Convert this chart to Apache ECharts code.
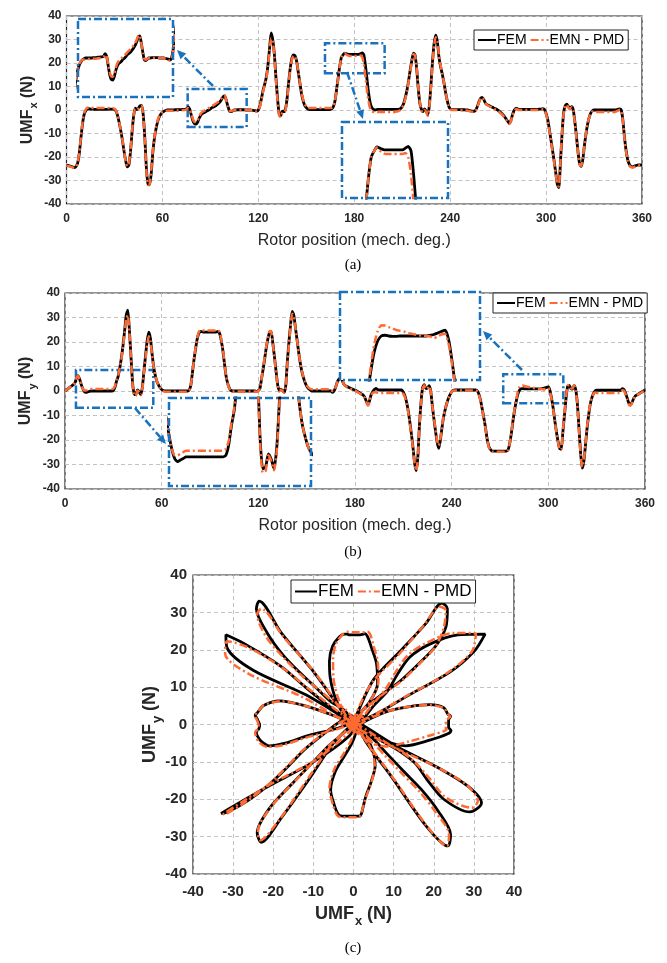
<!DOCTYPE html>
<html>
<head>
<meta charset="utf-8">
<script src="https://cdn.jsdelivr.net/npm/echarts@6.0.0/dist/echarts.min.js"></script>
<style>
  html, body { margin: 0; padding: 0; background: #fff; }
  #chart { width: 667px; height: 963px; }
</style>
</head>
<body>
<div id="chart"></div>
<script>
// rotor position, 1 deg steps
const deg = [];
for (let i = 0; i <= 360; i++) deg.push(i);

// UMF x, FEM
const fxFem = [
  /*0*/   -23.5,-23.6,-23.8,-24.0,-24.3,-24.5,-24.0,-22.5,-18.5,-12,
  /*10*/  -6,-2,-0.3,0.4,0.6,0.4,0.4,0.3,0.3,0.3,
  /*20*/  0.3,0.3,0.3,0.3,0.3,0.3,0.3,0.4,0.4,0.4,
  /*30*/  0.2,-0.5,-2.5,-5.5,-9,-13,-17.5,-21.5,-24.2,-23.5,
  /*40*/  -18,-9.5,-2.5,0.8,0.2,0.8,1.8,2.0,-2,-12,
  /*50*/  -25,-31.5,-31.8,-27,-18,-12,-8,-5,-3,-1.8,
  /*60*/  -1,-0.5,-0.2,0,0,0,0,0,0.1,0.1,
  /*70*/  0.1,0.2,0.2,0.3,0.3,0.5,1.2,0.5,-2,-4.5,
  /*80*/  -5.8,-6,-5.2,-3.5,-2.2,-1.5,-1.2,-0.8,-0.3,0,
  /*90*/  0.5,1,1.3,1.7,2.2,2.8,3.5,4.5,5.7,6,
  /*100*/ 4,1.5,-0.5,-0.7,-0.3,0,0,0.1,0.1,0.1,
  /*110*/ 0.1,0.1,0,0,0,0,-0.1,-0.2,-0.3,-0.5,
  /*120*/ 0,2,5,8.5,11,14,19,26,32.8,30,
  /*130*/ 24,14,5,-1.5,-2.5,-0.5,-0.7,0.5,5,12,
  /*140*/ 18,22,23.4,23,20.5,16,11.5,7,4,2,
  /*150*/ 1,0.4,0.2,0.2,0.2,0.2,0.2,0.2,0.2,0.2,
  /*160*/ 0.2,0.2,0.2,0.2,0.2,0.3,0.5,1.5,4,9,
  /*170*/ 14,19,22.5,23.5,24.2,24.0,23.8,23.7,23.7,23.7,
  /*180*/ 23.7,23.7,23.7,23.7,24.0,24.3,23.5,19,13,7,
  /*190*/ 3,1,0.3,0,0.2,0.3,0.3,0.3,0.3,0.3,
  /*200*/ 0.3,0.3,0.3,0.3,0.3,0.3,0.3,0.3,0.4,0.6,
  /*210*/ 1.5,3,5.5,8.5,12.5,17,21,24.2,23.5,18,
  /*220*/ 9.5,3,0.3,-0.7,0.5,-0.5,-2,2,11,21,
  /*230*/ 28.5,31.9,29,22.5,18.5,15.5,12,8,4.5,1.8,
  /*240*/ 0.5,0.2,0.2,0.2,0.2,0.2,0.2,0.1,0.1,0.1,
  /*250*/ 0,0,-0.2,-0.4,-0.5,-0.6,0,1.5,3.5,5,
  /*260*/ 5.4,4.5,3,2.3,2,1.6,1.3,1,0.6,0.3,
  /*270*/ -0.2,-0.7,-1.3,-2,-2.8,-3.8,-4.8,-5.7,-4.5,-2,
  /*280*/ -0.2,0.7,0.6,0.3,0.3,0.3,0.3,0.3,0.3,0.3,
  /*290*/ 0.3,0.3,0.3,0.3,0.3,0.3,0.4,0.4,0.6,0.2,
  /*300*/ -1.5,-4,-8,-12.5,-17,-21.5,-26.5,-31.5,-33,-22,
  /*310*/ -10,-1,1.8,2.5,1.5,0.8,1.4,0,-5,-11.3,
  /*320*/ -18,-23,-24,-21,-15,-10,-6,-3,-1.2,-0.3,
  /*330*/ 0,0,0,0,0,0,0,0,0,0,
  /*340*/ 0,0,0,0,0.1,0.3,0.5,0,-4,-11.3,
  /*350*/ -17,-21,-23,-24,-24.2,-24,-23.6,-23.5,-23.4,-23.4,
  /*360*/ -23.5
];

// UMF x, EMN - PMD
const fxEmn = [
  /*0*/   -23.7,-23.8,-24.0,-24.2,-24.5,-24.6,-24.0,-22.3,-18,-11.5,
  /*10*/  -5.5,-1.5,0.2,0.9,1.1,1.0,0.9,0.9,0.9,0.9,
  /*20*/  0.9,0.9,0.9,0.9,0.9,0.9,0.9,0.9,0.9,0.8,
  /*30*/  0.5,-0.3,-2.3,-5.3,-8.8,-12.8,-17.5,-21.8,-24,-23,
  /*40*/  -17.5,-9,-2.3,0.5,0,0.6,1.6,1.8,-2.5,-13,
  /*50*/  -26,-32,-31.5,-26,-17.5,-11.5,-7.5,-4.5,-2.6,-1.5,
  /*60*/  -0.8,-0.5,-0.4,-0.3,-0.3,-0.3,-0.3,-0.3,-0.2,-0.2,
  /*70*/  -0.2,-0.1,-0.1,0,0,0.2,0.9,0.4,-1.6,-3.8,
  /*80*/  -5,-5.1,-4.4,-2.8,-1.5,-0.8,-0.4,0,0.4,0.8,
  /*90*/  1.2,1.7,2.1,2.5,3,3.5,4.2,5,6,6.2,
  /*100*/ 4,1.3,-0.3,-0.5,-0.2,0,0,0,0,0,
  /*110*/ 0,0,0,0,0,0,-0.2,-0.3,-0.5,-0.7,
  /*120*/ -0.2,1.5,4.5,8,10.5,13.5,18.5,25,30.5,29.5,
  /*130*/ 23,13,4,-2.5,-3,-1,-0.9,0,4.5,11.5,
  /*140*/ 17.5,21.5,23,22.5,20.5,16.2,11.8,7.5,4.5,2.5,
  /*150*/ 1.5,0.9,0.8,0.8,0.8,0.8,0.8,0.8,0.8,0.8,
  /*160*/ 0.8,0.8,0.8,0.8,0.8,0.9,1,1.8,4,9,
  /*170*/ 14,19,22.5,23.5,24.1,23.6,23.2,23,23,23,
  /*180*/ 23,23,23,23,23.2,22.5,19.5,14,8,3.5,
  /*190*/ 0.5,-0.5,-0.8,-0.8,-0.8,-0.8,-0.8,-0.8,-0.8,-0.8,
  /*200*/ -0.8,-0.8,-0.8,-0.8,-0.8,-0.8,-0.7,-0.6,-0.4,0,
  /*210*/ 1,2.5,5,8,12,16.5,20.5,23.8,23.3,18.5,
  /*220*/ 10,3.5,-0.3,-1,0,-0.8,-2.5,1.5,10,20,
  /*230*/ 28,31,29.5,23,19,15.5,12,8,4.5,1.8,
  /*240*/ 0.3,0,0,0,0,0,0,-0.1,-0.1,-0.1,
  /*250*/ -0.2,-0.3,-0.5,-0.7,-0.8,-0.9,-0.3,1.2,3.2,4.8,
  /*260*/ 5.3,4.5,3,2.2,1.8,1.4,1,0.7,0.3,0,
  /*270*/ -0.5,-1,-1.6,-2.3,-3.1,-4.1,-5.1,-6,-4.8,-2.3,
  /*280*/ -0.5,0.3,0.3,0,0,0,0,0,0,0,
  /*290*/ 0,0,0,0,0,0,0.1,0.1,0.3,0,
  /*300*/ -1.8,-4.5,-8.5,-13,-17.5,-22,-27,-31.5,-32.5,-21.5,
  /*310*/ -9.5,-1.5,1.8,2.2,1,0.3,1.2,-0.2,-5.5,-12,
  /*320*/ -18.5,-23.3,-23.8,-20.5,-14.5,-9.5,-5.8,-3,-1.3,-0.6,
  /*330*/ -0.8,-0.8,-0.8,-0.8,-0.8,-0.8,-0.8,-0.8,-0.8,-0.8,
  /*340*/ -0.8,-0.8,-0.8,-0.8,-0.6,-0.3,0.1,-0.5,-4.5,-11.8,
  /*350*/ -17.5,-21.5,-23.5,-24.3,-24.5,-24.3,-23.8,-23.6,-23.6,-23.6,
  /*360*/ -23.7
];

// UMF y, FEM
const fyFem = [
  /*0*/   0,0.5,1,1.5,2,2.5,3.1,5,6.3,5,
  /*10*/  2.8,1,-0.2,-0.6,-0.4,-0.2,0,0,0,0,
  /*20*/  0,0,0,0,0,0,0,0,0,0,
  /*30*/  0.2,1.5,4,6,9.5,13.5,18.5,24.5,31,33,
  /*40*/  24.5,13.5,3,-1.5,-1.3,0.4,-0.3,-1.5,1.5,8,
  /*50*/  14.5,20.5,24,21.5,15.5,10,6.5,4,2.5,1.3,
  /*60*/  0.6,0.2,0,0,0,0,0,0,0,0,
  /*70*/  0,0,0,0,0,0,0,0.3,2,7,
  /*80*/  12.5,17,21,23.5,24.2,24.2,24,24,24,24,
  /*90*/  24,24,24,24,24.1,24.3,23.5,20.5,16.5,11,
  /*100*/ 6,3,1.2,0.2,0,0,0,0,0,0,
  /*110*/ 0,0,0,0,0,0,0,0,0,-0.2,
  /*120*/ 0.2,1,5,9,13.5,18,21.5,24,24.2,19.5,
  /*130*/ 14,8,2.5,0.2,0.7,0.2,-0.5,2,12,20,
  /*140*/ 27,32.5,31,26,21,16,11.5,8,5.5,3.5,
  /*150*/ 2,1.1,0.5,0,0,0,0,0,0,0,
  /*160*/ 0,0,0,0,0,0,-0.5,0,1.5,3.7,
  /*170*/ 4.8,5.3,4.5,2.8,2.2,1.8,1.5,1.2,0.9,0.6,
  /*180*/ 0.4,0,-0.4,-0.8,-1.2,-1.6,-2.5,-4.2,-5.7,-4,
  /*190*/ -1.5,-0.3,0.6,1.1,0.6,0.4,0.4,0.4,0.4,0.4,
  /*200*/ 0.4,0.4,0.4,0.4,0.4,0.4,0.4,0.4,0.4,0.4,
  /*210*/ -0.5,-2,-4.5,-8,-12.5,-17.5,-23,-29.5,-32.5,-27,
  /*220*/ -14,-4.5,1.5,2.6,1,1.2,2.2,0,-6,-11.5,
  /*230*/ -16.5,-21,-23.4,-20,-15,-10.5,-7.5,-5,-3,-1.5,
  /*240*/ -0.3,0.3,0.4,0.4,0.4,0.4,0.4,0.4,0.4,0.4,
  /*250*/ 0.4,0.4,0.4,0.4,0.4,0.4,0,-1.5,-4,-7.5,
  /*260*/ -11,-15,-19.5,-22.5,-23.8,-24.5,-24.5,-24.5,-24.5,-24.5,
  /*270*/ -24.5,-24.5,-24.5,-24.5,-24.5,-24,-21.5,-17.5,-12.5,-8,
  /*280*/ -4.5,-1.5,0.2,0.9,1,0.9,0.85,0.85,0.9,0.9,
  /*290*/ 0.9,0.9,0.9,0.9,0.9,0.9,1.0,1.1,1.3,1.5,
  /*300*/ 1.7,0.3,-3,-7,-12,-16.5,-20.5,-23.5,-23.8,-17,
  /*310*/ -10,-3,1.9,2.3,1,0.8,2.2,0.5,-5,-15,
  /*320*/ -25,-31.5,-29,-22.5,-15.5,-10,-5.5,-2.8,-1.1,0,
  /*330*/ 0.3,0.3,0.3,0.3,0.3,0.3,0.3,0.3,0.3,0.3,
  /*340*/ 0.3,0.3,0.3,0.3,0.3,0.3,1,0.6,-1,-3,
  /*350*/ -5,-5.7,-4.5,-3,-2,-1.6,-1.2,-0.8,-0.4,0,
  /*360*/ 0.4
];

// UMF y, EMN - PMD
const fyEmn = [
  /*0*/   0,0.5,1,1.5,2,2.5,3.2,5.2,6.2,4.8,
  /*10*/  2.6,1,0.2,0.2,0.4,0.6,0.8,0.8,0.8,0.8,
  /*20*/  0.8,0.8,0.8,0.8,0.8,0.8,0.8,0.8,0.8,0.8,
  /*30*/  1,2,4.3,6.3,9.5,13,18,23.5,29.5,31,
  /*40*/  23.5,13,2.5,-2,-1.8,0.2,-0.5,-1.7,1,7.5,
  /*50*/  13.5,19,22.3,20.5,15,9.8,6.5,4,2.5,1.3,
  /*60*/  0.5,0,-0.3,-0.3,-0.3,-0.3,-0.3,-0.3,-0.3,-0.3,
  /*70*/  -0.3,-0.3,-0.3,-0.3,-0.3,-0.3,-0.3,0,1.8,7,
  /*80*/  12.5,17.5,21.5,24,24.8,24.8,24.7,24.7,24.7,24.7,
  /*90*/  24.7,24.7,24.7,24.7,24.7,24.8,24,21,17,11.5,
  /*100*/ 6,2.8,1,0,-0.2,-0.2,-0.2,-0.2,-0.2,-0.2,
  /*110*/ -0.2,-0.2,-0.2,-0.2,-0.2,-0.2,-0.2,-0.2,-0.2,-0.3,
  /*120*/ 0,1,5,9.5,14,18.5,22,24.5,24.3,19.5,
  /*130*/ 13.5,7.5,2,-0.2,0.5,0,-0.7,1.5,11,19,
  /*140*/ 26.5,31.5,30.5,26,21,16,11.5,8.2,5.7,3.7,
  /*150*/ 2.3,1.5,1,0.7,0.7,0.7,0.7,0.7,0.7,0.7,
  /*160*/ 0.7,0.7,0.7,0.7,0.7,0.6,0,0.2,1.6,3.7,
  /*170*/ 4.8,5.2,4.4,2.8,2.1,1.6,1.3,1,0.7,0.4,
  /*180*/ 0.2,-0.2,-0.6,-1,-1.4,-1.8,-2.8,-4.5,-5.9,-4.3,
  /*190*/ -1.8,-0.8,-0.5,-0.5,-0.7,-0.8,-0.8,-0.8,-0.8,-0.8,
  /*200*/ -0.8,-0.8,-0.8,-0.8,-0.8,-0.8,-0.8,-0.8,-0.8,-0.8,
  /*210*/ -1.2,-2.5,-5,-8.5,-13,-18,-23.5,-29.5,-32.5,-27.5,
  /*220*/ -14.5,-5,1,2.3,0.8,1,2,-0.3,-6,-11,
  /*230*/ -16,-20.5,-22.3,-19.5,-14.5,-10.3,-7.3,-5,-3,-1.5,
  /*240*/ -0.3,0.2,0.2,0.2,0.2,0.2,0.2,0.2,0.2,0.2,
  /*250*/ 0.2,0.2,0.2,0.2,0.2,0.2,-0.2,-1.8,-4.3,-7.8,
  /*260*/ -11.3,-15.3,-19.8,-22.8,-24.1,-24.8,-24.8,-24.8,-24.8,-24.8,
  /*270*/ -24.8,-24.8,-24.8,-24.8,-24.8,-24.2,-21.5,-17.2,-12,-7.5,
  /*280*/ -4,-0.5,1.5,2.35,2.3,2.1,1.9,1.7,1.6,1.5,
  /*290*/ 1.3,1.2,1.1,1,0.95,0.9,0.85,0.6,0.8,1.1,
  /*300*/ 1.2,-0.3,-3.3,-7.3,-12.3,-16.8,-20.8,-23.8,-24,-16.5,
  /*310*/ -9.5,-2.5,2,2.5,1.2,1,2.3,0.2,-5.5,-15.5,
  /*320*/ -25.5,-31,-28.5,-22,-15,-9.5,-5.3,-2.8,-1.2,-0.6,
  /*330*/ -0.8,-0.8,-0.8,-0.8,-0.8,-0.8,-0.8,-0.8,-0.8,-0.8,
  /*340*/ -0.8,-0.8,-0.8,-0.8,-0.8,-0.6,0.3,0.1,-1.4,-3.5,
  /*350*/ -5.5,-6,-4.8,-3.2,-2.2,-1.7,-1.3,-0.9,-0.5,-0.1,
  /*360*/ 0.2
];

// zoom windows (data units): [xmin, xmax, ymin, ymax]
const boxA1 = [75.8, 112.7, -7.2, 8.9];
const boxA2 = [161.7, 199, 15.6, 28.4];
const boxB1 = [6.8, 54.8, -6.8, 8.6];
const boxB2 = [272, 309.3, -5, 6.8];
// what the insets show
const viewA1 = [58, 121, -10.6, 10.6];
const viewA2 = boxA2;
const viewB1 = [10, 60, -3.7, 7.5];
const viewB2 = boxB2;

const legendNames = ['FEM', 'EMN - PMD'];

const GRAY = '#262626';
const BLUE = '#1a72bd';
const ORANGE = '#ff6a33';
const FONT = '"Liberation Sans", Arial, sans-serif';
const dashDot = [8, 3, 2, 3];

// inset rects in px: left, top, width, height
const insetA1 = [78, 19, 95, 78];
const insetA2 = [342, 122, 106, 76];
const insetB1 = [169, 398, 142, 88];
const insetB2 = [340, 292, 140, 88];

const xy = (a, b) => a.map((v, i) => [v, b[i]]);

function frameGrid(left, top, width, height) {
  return { left, top, width, height, show: true, borderColor: GRAY, borderWidth: 1.2,
    backgroundColor: '#fff', containLabel: false, outerBoundsMode: 'none' };
}
function insetGrid(r) {
  return { left: r[0], top: r[1], width: r[2], height: r[3], show: false,
    containLabel: false, outerBoundsMode: 'none' };
}

const split = { show: true, lineStyle: { color: '#c2c2c2', type: [4, 3], width: 1 } };

function subName(main, sub, size) {
  return {
    text: '{m|' + main + '}{s|' + sub + '}{m| (N)}',
    style: {
      rich: {
        m: { fontFamily: FONT, fontSize: size, fontWeight: 'bold', color: GRAY,
          lineHeight: size + 2, verticalAlign: 'top' },
        s: { fontFamily: FONT, fontSize: Math.round(size * 0.7), fontWeight: 'bold', color: GRAY,
          lineHeight: Math.round(size * 0.75), verticalAlign: 'top',
          padding: [Math.round(size * 0.55), 0, 0, 1] }
      }
    }
  };
}

function degAxis(gridIndex) {
  return {
    gridIndex, type: 'value', min: 0, max: 360, interval: 60,
    axisLine: { show: false }, axisTick: { show: false },
    axisLabel: { color: GRAY, fontFamily: FONT, fontSize: 12, fontWeight: 'bold', margin: 9 },
    splitLine: split,
    name: 'Rotor position (mech. deg.)', nameLocation: 'middle', nameGap: 29,
    nameMoveOverlap: false,
    nameTextStyle: { color: GRAY, fontFamily: FONT, fontSize: 16 }
  };
}
function forceAxis(gridIndex, sub, gap) {
  const n = subName('UMF', sub, 16);
  return {
    gridIndex, type: 'value', min: -40, max: 40, interval: 10,
    axisLine: { show: false }, axisTick: { show: false },
    axisLabel: { color: GRAY, fontFamily: FONT, fontSize: 12, fontWeight: 'bold', margin: 5 },
    splitLine: split,
    name: n.text, nameLocation: 'middle', nameGap: gap, nameRotate: 90,
    nameMoveOverlap: false,
    nameTextStyle: n.style
  };
}
function insetAxis(gridIndex, lo, hi) {
  return { gridIndex, type: 'value', min: lo, max: hi, show: false,
    splitLine: { show: false } };
}
function flowerAxis(gridIndex, sub, isY) {
  const n = subName('UMF', sub, 18);
  return {
    gridIndex, type: 'value', min: -40, max: 40, interval: 10,
    axisLine: { show: false }, axisTick: { show: false },
    axisLabel: { color: GRAY, fontFamily: FONT, fontSize: 15, fontWeight: 'bold', margin: isY ? 6 : 10 },
    splitLine: split,
    name: n.text, nameLocation: 'middle', nameGap: isY ? 32 : 31,
    nameMoveOverlap: false,
    nameRotate: isY ? 90 : 0, nameTextStyle: n.style
  };
}

function fem(idx, data, z) {
  return { name: 'FEM', type: 'line', xAxisIndex: idx, yAxisIndex: idx, data,
    symbol: 'none', smooth: 0.2, z, silent: true,
    lineStyle: { color: '#000', width: 2.8 }, itemStyle: { color: '#000' } };
}
function emn(idx, data, z) {
  return { name: 'EMN - PMD', type: 'line', xAxisIndex: idx, yAxisIndex: idx, data,
    symbol: 'none', smooth: 0.2, z, silent: true,
    lineStyle: { color: ORANGE, width: 2.5, type: dashDot }, itemStyle: { color: ORANGE } };
}
function boxArea(boxes) {
  return {
    silent: true, label: { show: false },
    itemStyle: { color: 'rgba(0,0,0,0)', borderColor: BLUE, borderWidth: 2.5, borderType: dashDot },
    data: boxes.map(b => [{ coord: [b[0], b[2]] }, { coord: [b[1], b[3]] }])
  };
}

const xs = {
  a: xy(deg, fxFem), ae: xy(deg, fxEmn),
  b: xy(deg, fyFem), be: xy(deg, fyEmn),
  c: xy(fxFem, fyFem), ce: xy(fxEmn, fyEmn)
};

const series = [
  fem(0, xs.a, 2), Object.assign(emn(0, xs.ae, 3), { markArea: boxArea([boxA1, boxA2]) }),
  fem(1, xs.a, 10), emn(1, xs.ae, 11),
  fem(2, xs.a, 10), emn(2, xs.ae, 11),
  fem(3, xs.b, 2), Object.assign(emn(3, xs.be, 3), { markArea: boxArea([boxB1, boxB2]) }),
  fem(4, xs.b, 10), emn(4, xs.be, 11),
  fem(5, xs.b, 10), emn(5, xs.be, 11),
  Object.assign(fem(6, xs.c, 2), { smooth: 0.3 }),
  Object.assign(emn(6, xs.ce, 3), { smooth: 0.3 })
];

function legendAt(left, top, size, w) {
  return {
    data: legendNames, left, top, orient: 'horizontal', selectedMode: false,
    backgroundColor: '#fff', borderColor: GRAY, borderWidth: 1, borderRadius: 0,
    padding: [3, 4, 3, 3], itemGap: 3, itemWidth: w, itemHeight: 12,
    itemStyle: { opacity: 0 },
    textStyle: { color: '#000', fontFamily: FONT, fontSize: size, padding: [0, 0, 0, -4] }
  };
}

// inset backgrounds, outlines, arrows, panel captions
const graphics = [];
[insetA1, insetA2, insetB1, insetB2].forEach(r => {
  graphics.push({ type: 'rect', z: 8, silent: true,
    shape: { x: r[0], y: r[1], width: r[2], height: r[3] }, style: { fill: '#fff' } });
  graphics.push({ type: 'rect', z: 12, silent: true,
    shape: { x: r[0], y: r[1], width: r[2], height: r[3] },
    style: { fill: null, stroke: BLUE, lineWidth: 2.5, lineDash: dashDot } });
});
function arrow(x1, y1, x2, y2) {
  const a = Math.atan2(y2 - y1, x2 - x1), L = 9, W = 4;
  const bx = x2 - L * Math.cos(a), by = y2 - L * Math.sin(a);
  graphics.push({ type: 'line', z: 12, silent: true, shape: { x1, y1, x2: bx, y2: by },
    style: { stroke: BLUE, lineWidth: 2.5, lineDash: dashDot } });
  graphics.push({ type: 'polygon', z: 12, silent: true,
    shape: { points: [[x2, y2],
      [bx + W * Math.sin(a), by - W * Math.cos(a)],
      [bx - W * Math.sin(a), by + W * Math.cos(a)]] },
    style: { fill: BLUE } });
}
arrow(213, 86, 177, 50);
arrow(347, 72, 363, 119);
arrow(135, 408, 166, 444);
arrow(522, 370, 483, 331);
[['(a)', 265], ['(b)', 552], ['(c)', 948]].forEach(t => {
  graphics.push({ type: 'text', silent: true, style: { text: t[0], x: 353, y: t[1],
    align: 'center', verticalAlign: 'middle', font: '15px "Liberation Serif", serif', fill: '#000' } });
});

const option = {
  animation: false,
  backgroundColor: '#fff',
  grid: [
    frameGrid(66.5, 16, 575.5, 188),
    insetGrid(insetA1), insetGrid(insetA2),
    frameGrid(65, 293, 580, 196),
    insetGrid(insetB1), insetGrid(insetB2),
    frameGrid(193, 575, 321, 299)
  ],
  xAxis: [
    degAxis(0),
    insetAxis(1, viewA1[0], viewA1[1]), insetAxis(2, viewA2[0], viewA2[1]),
    degAxis(3),
    insetAxis(4, viewB1[0], viewB1[1]), insetAxis(5, viewB2[0], viewB2[1]),
    flowerAxis(6, 'x', false)
  ],
  yAxis: [
    forceAxis(0, 'x', 29),
    insetAxis(1, viewA1[2], viewA1[3]), insetAxis(2, viewA2[2], viewA2[3]),
    forceAxis(3, 'y', 29),
    insetAxis(4, viewB1[2], viewB1[3]), insetAxis(5, viewB2[2], viewB2[3]),
    flowerAxis(6, 'y', true)
  ],
  legend: [
    legendAt(474, 30, 14, 18),
    legendAt(493, 293, 14, 18),
    legendAt(291, 580, 17, 22)
  ],
  graphic: graphics,
  series
};

const chart = echarts.init(document.getElementById('chart'), null, { renderer: 'canvas' });
chart.setOption(option);
</script>
</body>
</html>
